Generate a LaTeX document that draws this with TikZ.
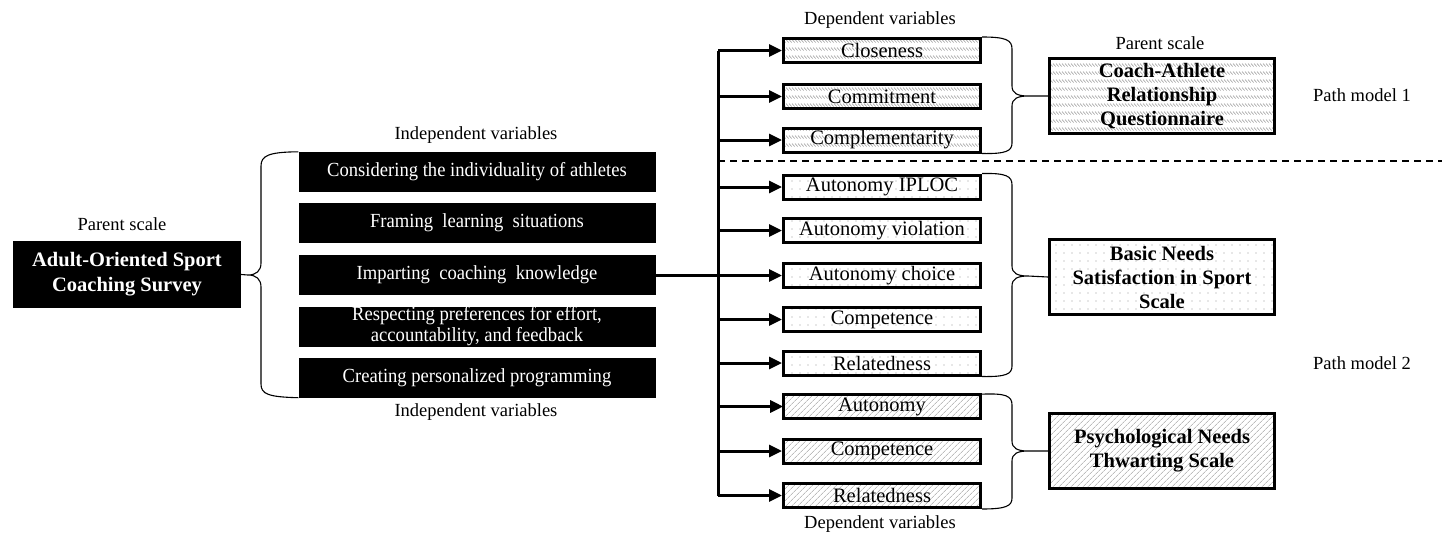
\documentclass[tikz,border=0pt]{standalone}
\usepackage{fontspec}
\setmainfont{Liberation Serif}
\usetikzlibrary{arrows.meta,patterns.meta}
\newcommand\fLab{\fontsize{18.5}{21}\selectfont}
\newcommand\fBlk{\fontsize{20}{21}\selectfont\addfontfeature{FakeStretch=0.93}}
\newcommand\fDep{\fontsize{20.5}{24}\selectfont}
\newcommand\fPar{\fontsize{20.5}{24}\selectfont\bfseries}
\pgfdeclarepattern{
  name=rowhatch, type=uncolored,
  bottom left={\pgfpoint{-0.5pt}{-0.5pt}}, top right={\pgfpoint{3.5pt}{8.5pt}},
  tile size={\pgfpoint{3pt}{8pt}},
  code={\pgfsetlinewidth{0.6pt}\pgfpathmoveto{\pgfpoint{0pt}{5.5pt}}\pgfpathlineto{\pgfpoint{2.6pt}{2.5pt}}\pgfusepath{stroke}}
}
\tikzset{
  lab/.style={font=\fLab, inner sep=0},
  blk/.style={fill=black, text=white, minimum width=357, minimum height=40, inner sep=0, align=center, font=\fBlk},
  dep/.style={draw, line width=3pt, minimum width=197, minimum height=24, inner sep=0, font=\fDep},
  par/.style={draw, line width=3pt, minimum width=225, minimum height=75, inner sep=0, align=center, font=\fPar},
  crq/.style={pattern=rowhatch, pattern color=gray!75},
  bns/.style={pattern={Dots[distance=8pt,radius=0.55pt]}, pattern color=gray!80},
  pnt/.style={pattern={Lines[angle=45,distance=4pt,line width=0.6pt]}, pattern color=gray!80},
  bus/.style={line width=3pt},
  arr/.style={line width=3pt, -{Triangle[length=13pt,width=12pt]}},
  brc/.style={line width=1.1pt},
}
\begin{document}
\begin{tikzpicture}[x=1pt,y=-1pt]
\fill[white] (0,0) rectangle (1448,533);
\useasboundingbox (0,0) rectangle (1448,533);

% left parent
\node[lab] (ps1) at (122,224) {Parent scale};
\node[fill=black, text=white, minimum width=228, minimum height=67, inner sep=0, align=center, font=\fontsize{20.5}{25}\selectfont\bfseries] (aos) at (127,274.5) {Adult-Oriented Sport\\Coaching Survey};

% independent variables
\node[lab] (iv1) at (476,135) {Independent variables};
\node[blk] (b1) at (477,172) {Considering the individuality of athletes};
\node[blk] (b2) at (477,223) {Framing\ \ learning\ \ situations};
\node[blk] (b3) at (477,275) {Imparting\ \ coaching\ \ knowledge};
\node[blk] (b4) at (477,326.5) {Respecting preferences for\ effort,\\accountability, and\ feedback};
\node[blk] (b5) at (477,377.5) {Creating personalized programming};
\node[lab] (iv2) at (476,412) {Independent variables};

% left brace
\draw[brc] (b1.north west) .. controls (268,152) and (261,156) .. (261,166) -- (261,263)
  .. controls (261,271) and (256,275) .. (248,275) -- (aos.east)
  (248,275) .. controls (256,275) and (261,279) .. (261,287) -- (261,384)
  .. controls (261,394) and (268,397) .. (b5.south west);

% dependent variables
\node[lab] (dv1) at (880,20) {Dependent variables};
\node[dep, crq] (c1) at (882,50.5) {Closeness};
\node[dep, crq] (c2) at (882,96.5) {Commitment};
\node[dep, crq] (c3) at (882,140) {Complementarity};
\node[dep, bns] (d1) at (882,187) {Autonomy IPLOC};
\node[dep, bns] (d2) at (882,230.5) {Autonomy violation};
\node[dep, bns] (d3) at (882,275.5) {Autonomy choice};
\node[dep, bns] (d4) at (882,319.5) {Competence};
\node[dep, bns] (d5) at (882,363) {Relatedness};
\node[dep, pnt] (e1) at (882,406.5) {Autonomy};
\node[dep, pnt] (e2) at (882,451) {Competence};
\node[dep, pnt] (e3) at (882,495.5) {Relatedness};
\node[lab] (dv2) at (880,524) {Dependent variables};

% bus
\coordinate (bx) at (718,275);
\draw[bus] (c1.west -| bx) -- (e3.west -| bx);
\draw[bus] (b3.east) -- (b3.east -| bx);
\foreach \n in {c1,c2,c3,d1,d2,d3,d4,d5,e1,e2,e3}
  \draw[arr] (\n.west -| bx) -- (\n.west);

% dashed separator
\coordinate (dl) at (718,161);
\coordinate (dr) at (1442,161);
\draw[line width=1.3pt, dash pattern=on 7pt off 5pt] (dl) -- (dr);

% parent scales right
\node[lab] (ps2) at (1160,43) {Parent scale};
\node[par, crq] (p1) at (1162,96) {Coach-Athlete\\Relationship\\Questionnaire};
\node[par, bns] (p2) at (1162,277) {Basic Needs\\Satisfaction in Sport\\Scale};
\node[par, pnt] (p3) at (1162,451) {Psychological Needs\\Thwarting Scale};

% right braces
\draw[brc] (c1.north east) .. controls (1006,37) and (1012,40) .. (1012,49) -- (1012,86)
  .. controls (1012,93) and (1017,96) .. (1028,96) -- (p1.west)
  (1028,96) .. controls (1017,96) and (1012,99) .. (1012,106) -- (1012,143)
  .. controls (1012,151) and (1006,154) .. (c3.south east);
\draw[brc] (d1.north east) .. controls (1006,173) and (1012,176) .. (1012,185) -- (1012,266)
  .. controls (1012,273) and (1017,276) .. (1028,276) -- (p2.west)
  (1028,276) .. controls (1017,276) and (1012,279) .. (1012,286) -- (1012,366)
  .. controls (1012,374) and (1006,377) .. (d5.south east);
\draw[brc] (e1.north east) .. controls (1006,393) and (1012,396) .. (1012,405) -- (1012,441)
  .. controls (1012,448) and (1017,451) .. (1028,451) -- (p3.west)
  (1028,451) .. controls (1017,451) and (1012,454) .. (1012,461) -- (1012,498)
  .. controls (1012,506) and (1006,509) .. (e3.south east);

% path model labels
\node[lab] (pm1) at (1362,95) {Path model 1};
\node[lab] (pm2) at (1362,363) {Path model 2};
\end{tikzpicture}
\end{document}
